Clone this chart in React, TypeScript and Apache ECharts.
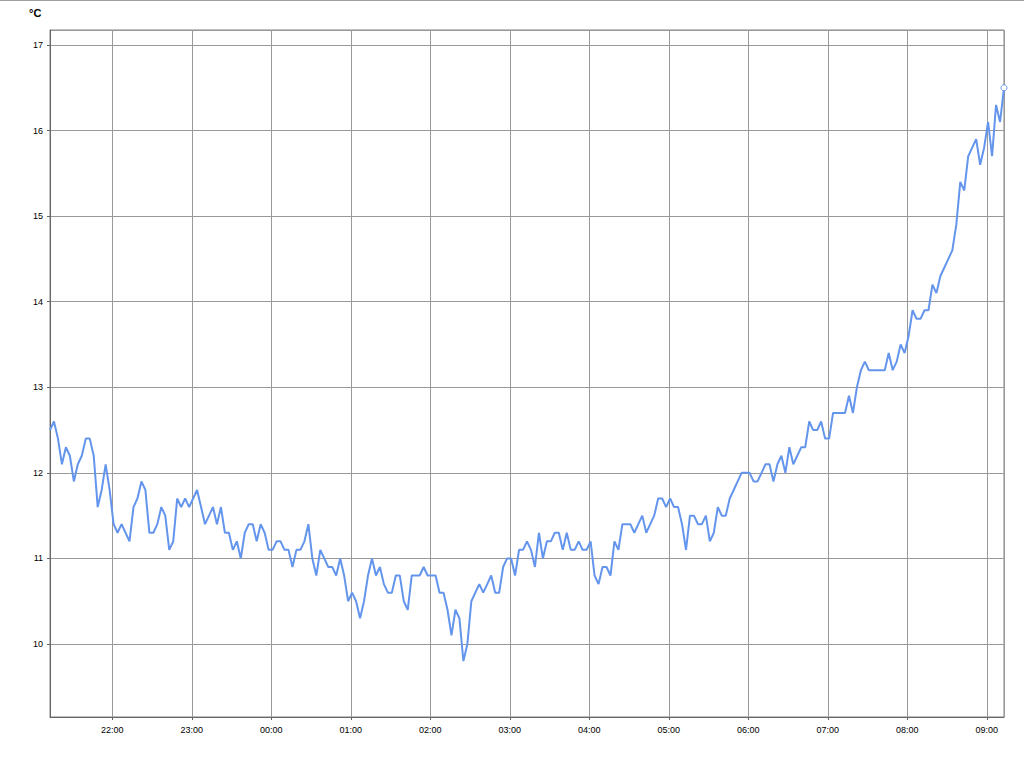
import React, { useEffect, useRef } from "react";
import * as echarts from "echarts";

// Temperature readings (°C), one every 3 minutes from 21:13 to 09:13
const temperatures: number[] = [
  12.5, 12.6, 12.4, 12.1, 12.3, 12.2, 11.9, 12.1, 12.2, 12.4,
  12.4, 12.2, 11.6, 11.8, 12.1, 11.8, 11.4, 11.3, 11.4, 11.3,
  11.2, 11.6, 11.7, 11.9, 11.8, 11.3, 11.3, 11.4, 11.6, 11.5,
  11.1, 11.2, 11.7, 11.6, 11.7, 11.6, 11.7, 11.8, 11.6, 11.4,
  11.5, 11.6, 11.4, 11.6, 11.3, 11.3, 11.1, 11.2, 11.0, 11.3,
  11.4, 11.4, 11.2, 11.4, 11.3, 11.1, 11.1, 11.2, 11.2, 11.1,
  11.1, 10.9, 11.1, 11.1, 11.2, 11.4, 11.0, 10.8, 11.1, 11.0,
  10.9, 10.9, 10.8, 11.0, 10.8, 10.5, 10.6, 10.5, 10.3, 10.5,
  10.8, 11.0, 10.8, 10.9, 10.7, 10.6, 10.6, 10.8, 10.8, 10.5,
  10.4, 10.8, 10.8, 10.8, 10.9, 10.8, 10.8, 10.8, 10.6, 10.6,
  10.4, 10.1, 10.4, 10.3, 9.8, 10.0, 10.5, 10.6, 10.7, 10.6,
  10.7, 10.8, 10.6, 10.6, 10.9, 11.0, 11.0, 10.8, 11.1, 11.1,
  11.2, 11.1, 10.9, 11.3, 11.0, 11.2, 11.2, 11.3, 11.3, 11.1,
  11.3, 11.1, 11.1, 11.2, 11.1, 11.1, 11.2, 10.8, 10.7, 10.9,
  10.9, 10.8, 11.2, 11.1, 11.4, 11.4, 11.4, 11.3, 11.4, 11.5,
  11.3, 11.4, 11.5, 11.7, 11.7, 11.6, 11.7, 11.6, 11.6, 11.4,
  11.1, 11.5, 11.5, 11.4, 11.4, 11.5, 11.2, 11.3, 11.6, 11.5,
  11.5, 11.7, 11.8, 11.9, 12.0, 12.0, 12.0, 11.9, 11.9, 12.0,
  12.1, 12.1, 11.9, 12.1, 12.2, 12.0, 12.3, 12.1, 12.2, 12.3,
  12.3, 12.6, 12.5, 12.5, 12.6, 12.4, 12.4, 12.7, 12.7, 12.7,
  12.7, 12.9, 12.7, 13.0, 13.2, 13.3, 13.2, 13.2, 13.2, 13.2,
  13.2, 13.4, 13.2, 13.3, 13.5, 13.4, 13.6, 13.9, 13.8, 13.8,
  13.9, 13.9, 14.2, 14.1, 14.3, 14.4, 14.5, 14.6, 14.9, 15.4,
  15.3, 15.7, 15.8, 15.9, 15.6, 15.8, 16.1, 15.7, 16.3, 16.1,
  16.5,
];

const startTime = { hour: 21, minute: 13 };
const stepMinutes = 3;
const yRange = { min: 9.147, max: 17.175 };
const unitLabel = "°C";

const FONT = '"Liberation Sans", Arial, sans-serif';
const LINE_COLOR = "#6495ED";

function pad(n: number) {
  return n < 10 ? "0" + n : String(n);
}

export default function App() {
  const ref = useRef<HTMLDivElement>(null);

  useEffect(() => {
    if (!ref.current) return;
    const chart = echarts.init(ref.current, undefined, { renderer: "svg" });

    const t0 = new Date(2024, 0, 1, startTime.hour, startTime.minute, 0).getTime();
    const step = stepMinutes * 60 * 1000;
    const last = temperatures.length - 1;
    const data = temperatures.map((v, i) => {
      const item: any = { value: [t0 + i * step, v] };
      if (i === last) {
        item.symbol = "circle";
        item.symbolSize = 6;
        item.itemStyle = { color: "#ffffff", borderColor: LINE_COLOR, borderWidth: 1 };
      }
      return item;
    });

    chart.setOption({
      animation: false,
      backgroundColor: "#ffffff",
      grid: {
        left: 50,
        right: 20,
        top: 30,
        bottom: 51,
        show: true,
        borderColor: "#808080",
        borderWidth: 1,
        backgroundColor: "transparent",
      },
      graphic: [
        {
          type: "line",
          shape: { x1: 0, y1: 0.5, x2: 1024, y2: 0.5 },
          style: { stroke: "#a0a0a0", lineWidth: 1 },
          silent: true,
        },
        {
          type: "text",
          left: 29,
          top: 7,
          style: {
            text: unitLabel,
            fill: "#000",
            fontSize: 11,
            fontWeight: "bold",
            fontFamily: FONT,
          },
        },
      ],
      xAxis: {
        type: "time",
        min: t0,
        max: t0 + last * step,
        splitNumber: 12,
        minInterval: 3600 * 1000,
        maxInterval: 3600 * 1000,
        axisLine: { show: true, lineStyle: { color: "#666", width: 1 } },
        axisTick: { show: true, length: 3, lineStyle: { color: "#666" } },
        splitLine: { show: true, lineStyle: { color: "#999", width: 1 } },
        axisLabel: {
          color: "#000",
          fontSize: 9,
          fontFamily: FONT,
          margin: 8,
          hideOverlap: false,
          formatter: (val: number) => {
            const d = new Date(val);
            if (d.getMinutes() !== 0 || d.getSeconds() !== 0) return "";
            return pad(d.getHours()) + ":" + pad(d.getMinutes());
          },
        },
      },
      yAxis: {
        type: "value",
        min: yRange.min,
        max: yRange.max,
        splitNumber: 8,
        minInterval: 1,
        maxInterval: 1,
        axisLine: { show: true, lineStyle: { color: "#666", width: 1 } },
        axisTick: { show: true, length: 3, lineStyle: { color: "#666" } },
        splitLine: { show: true, lineStyle: { color: "#999", width: 1 } },
        axisLabel: {
          color: "#000",
          fontSize: 9,
          fontFamily: FONT,
          margin: 7,
          showMinLabel: false,
          showMaxLabel: false,
          formatter: (val: number) =>
            Math.abs(val - Math.round(val)) < 1e-6 ? String(Math.round(val)) : "",
        },
      },
      series: [
        {
          type: "line",
          data,
          symbol: "none",
          showSymbol: true,
          showAllSymbol: true,
          lineStyle: { color: LINE_COLOR, width: 2 },
          itemStyle: { color: LINE_COLOR },
          smooth: false,
          z: 3,
        },
      ],
    });

    return () => chart.dispose();
  }, []);

  return (
    <div
      ref={ref}
      style={{ position: "fixed", left: 0, top: 0, width: 1024, height: 768, background: "#fff" }}
    />
  );
}
